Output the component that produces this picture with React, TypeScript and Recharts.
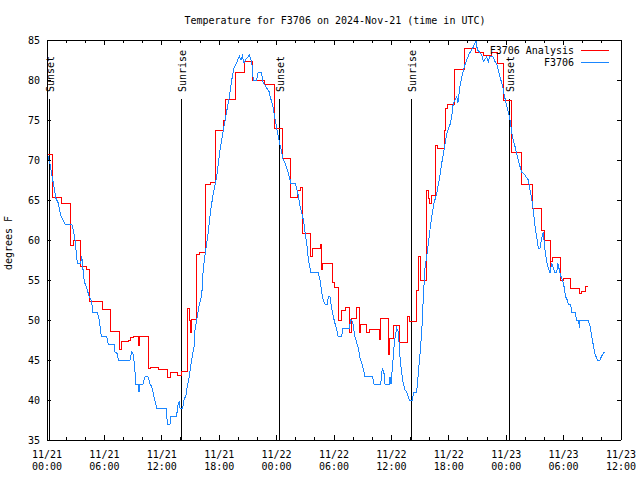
import React from 'react';
import { LineChart, Line, XAxis, YAxis, ReferenceLine } from 'recharts';

const FONT = '"DejaVu Sans Mono", "Liberation Mono", monospace';

// ---- axis ticks / labels ----
const xMajorTicks = [0, 6, 12, 18, 24, 30, 36, 42, 48, 54, 60];
const xMinorTicks = [0, 2, 4, 6, 8, 10, 12, 14, 16, 18, 20, 22, 24, 26, 28, 30, 32, 34, 36, 38, 40, 42, 44, 46, 48, 50, 52, 54, 56, 58, 60];
const xDateLabels = ['11/21', '11/21', '11/21', '11/21', '11/22', '11/22', '11/22', '11/22', '11/23', '11/23', '11/23'];
const xTimeLabels = ['00:00', '06:00', '12:00', '18:00', '00:00', '06:00', '12:00', '18:00', '00:00', '06:00', '12:00'];
const yTicks = [35, 40, 45, 50, 55, 60, 65, 70, 75, 80, 85];

// ---- sun events (hours since 11/21 00:00 UTC) ----
const sunHours = [0.24, 14.04, 24.28, 38.08, 48.32];
const sunLabels = ['Sunset', 'Sunrise', 'Sunset', 'Sunrise', 'Sunset'];
const sunLineTop = 77.6;

// ---- F3706 Analysis (hours, °F) ----
const analysisHours = [
  0, 0.55, 1.54, 2.46, 2.72, 3.45, 4.18, 4.49, 5.75, 6.66,
  7.56, 7.79, 8.5, 8.78, 8.99, 9.61, 9.72, 10.59, 10.77, 11.63,
  12.62, 12.86, 13.59, 14.08, 14.66, 14.87, 15.02, 15.12, 15.65, 15.99,
  16.59, 17.04, 17.63, 18.5, 18.68, 19.75, 20.64, 21.53, 22.71, 23.83,
  24.6, 25.5, 26.16, 26.55, 26.73, 27.56, 27.8, 28.54, 28.71, 28.85,
  29.86, 30.03, 30.45, 30.8, 31.15, 31.67, 31.85, 32.37, 32.64, 32.79,
  33.42, 33.76, 34.73, 34.84, 35.67, 35.85, 36.2, 36.82, 37.7, 37.94,
  38.64, 38.81, 39.09, 39.69, 39.85, 40.0, 40.2, 40.66, 40.87, 41.55,
  41.7, 41.91, 42.57, 43.62, 44.74, 45.6, 46.48, 47.07, 47.7, 48.57,
  49.62, 50.7, 51.64, 52.05, 52.58, 52.68, 52.89, 53.7, 53.94, 54.74,
  55.64, 55.92, 56.24, 56.58,
];
const analysisTemps = [
  70.7, 65.3, 64.6, 59.3, 60.0, 56.7, 56.3, 52.3, 51.3, 48.6,
  46.3, 47.3, 47.5, 47.8, 47.9, 46.8, 47.9, 44.0, 44.1, 43.8,
  42.8, 43.5, 43.1, 43.6, 51.5, 50.0, 48.5, 50.1, 58.2, 58.5,
  67.0, 67.2, 73.75, 74.9, 77.6, 80.9, 82.3, 79.9, 79.5, 74.0,
  70.2, 65.3, 66.25, 66.6, 60.8, 58.0, 58.9, 59.4, 56.3, 57.1,
  54.7, 54.1, 50.0, 51.25, 51.6, 48.4, 50.2, 51.6, 48.4, 49.4,
  48.5, 48.8, 47.6, 50.2, 45.7, 47.7, 49.3, 47.2, 50.5, 49.8,
  53.75, 57.9, 55.0, 66.25, 65.2, 64.6, 65.6, 71.8, 71.5, 73.75,
  76.4, 77.0, 81.3, 84.0, 83.4, 83.1, 83.4, 82.1, 77.4, 71.0,
  67.0, 63.9, 61.25, 60.0, 56.25, 57.3, 57.8, 55.0, 55.2, 54.0,
  53.3, 53.6, 54.2, 54.2,
];

// ---- F3706 observations (hours, °F) ----
const obsHours = [
  0, 0.31, 0.66, 0.94, 1.18, 1.43, 1.88, 2.58, 2.75, 2.93,
  3.17, 3.52, 3.63, 3.73, 3.9, 4.15, 4.42, 4.67, 4.78, 5.23,
  5.47, 5.61, 5.72, 6.24, 6.41, 7.0, 7.11, 7.35, 7.45, 8.68,
  8.85, 8.99, 9.13, 9.3, 9.56, 9.62, 9.67, 10.03, 10.24, 10.56,
  10.77, 10.94, 11.11, 11.29, 11.47, 12.44, 12.51, 12.62, 12.86, 12.93,
  13.56, 13.62, 13.83, 13.9, 14.18, 14.32, 14.53, 14.66, 14.87, 15.12,
  15.37, 15.47, 15.65, 15.92, 16.17, 16.34, 16.52, 16.69, 16.88, 17.11,
  17.38, 17.74, 18.08, 18.37, 18.71, 19.06, 19.31, 19.55, 19.83, 20.1,
  20.28, 20.43, 20.59, 20.8, 21.15, 21.4, 21.56, 21.9, 22.09, 22.42,
  22.55, 22.96, 23.2, 23.38, 23.59, 23.76, 24.01, 24.25, 24.53, 24.64,
  24.88, 25.12, 25.33, 25.5, 25.92, 26.1, 26.27, 26.45, 26.62, 26.86,
  26.97, 27.15, 27.31, 27.49, 27.6, 28.36, 28.54, 28.71, 28.88, 29.06,
  29.3, 29.4, 29.58, 29.76, 29.93, 30.28, 30.45, 30.8, 30.91, 31.6,
  31.74, 31.95, 32.19, 32.54, 32.72, 33.0, 33.24, 34.04, 34.18, 34.88,
  35.05, 35.23, 35.33, 35.78, 35.85, 35.96, 36.13, 36.3, 36.55, 36.72,
  36.9, 37.08, 37.24, 37.42, 37.6, 37.87, 38.23, 38.29, 38.64, 38.81,
  38.99, 39.17, 39.33, 39.51, 39.69, 39.86, 40.03, 40.21, 40.45, 40.73,
  41.0, 41.26, 41.5, 41.78, 42.12, 42.3, 42.47, 42.82, 42.96, 43.17,
  43.35, 43.62, 43.87, 44.14, 44.5, 44.74, 44.84, 44.98, 45.19, 45.44,
  45.61, 45.79, 45.96, 46.13, 46.3, 46.59, 46.83, 47.0, 47.17, 47.42,
  47.63, 47.77, 47.98, 48.22, 48.4, 48.57, 48.74, 48.92, 49.1, 49.27,
  49.44, 49.62, 49.96, 50.31, 50.49, 50.66, 50.83, 51.01, 51.19, 51.35,
  51.53, 51.71, 51.88, 52.05, 52.23, 52.4, 52.58, 52.76, 52.92, 53.1,
  53.28, 53.38, 53.55, 53.7, 53.9, 54.04, 54.22, 54.39, 54.49, 54.74,
  54.84, 55.19, 55.37, 55.58, 55.64, 55.72, 56.58, 56.76, 56.93, 57.1,
  57.28, 57.52, 57.8, 57.98, 58.25,
];
const obsTemps = [
  71.0, 69.5, 67.1, 65.2, 64.6, 63.1, 62.0, 62.0, 61.25, 60.0,
  57.1, 57.1, 58.0, 56.7, 54.8, 54.0, 52.9, 52.3, 51.0, 51.0,
  50.0, 48.5, 47.9, 47.9, 47.0, 47.0, 46.0, 45.8, 45.0, 45.0,
  46.0, 45.8, 44.6, 42.0, 42.0, 41.0, 42.0, 42.0, 42.9, 42.9,
  42.0, 41.7, 40.8, 39.9, 39.0, 39.0, 37.9, 37.0, 37.0, 37.9,
  37.9, 39.0, 39.9, 39.0, 39.0, 40.0, 40.6, 41.7, 42.9, 45.0,
  46.7, 48.75, 50.0, 52.0, 53.0, 56.5, 58.1, 59.5, 61.25, 63.75,
  65.8, 67.9, 71.25, 73.3, 75.6, 77.9, 80.0, 81.5, 82.2, 83.0,
  82.5, 83.0, 82.1, 82.6, 83.1, 82.3, 80.0, 80.0, 81.0, 81.0,
  79.8, 79.0, 78.6, 77.7, 76.9, 75.6, 74.0, 72.5, 71.0, 70.2,
  69.6, 68.75, 67.9, 67.1, 67.1, 66.5, 65.5, 64.2, 63.5, 62.1,
  61.0, 59.6, 57.7, 56.5, 55.9, 55.9, 55.0, 53.5, 52.5, 52.0,
  52.0, 52.9, 52.9, 51.5, 50.4, 48.75, 47.9, 47.9, 48.9, 48.9,
  50.0, 49.8, 47.9, 46.5, 45.2, 44.2, 42.9, 42.9, 42.0, 42.0,
  44.0, 43.3, 42.0, 42.0, 42.9, 42.0, 44.4, 47.1, 49.0, 48.5,
  45.4, 43.3, 42.1, 41.25, 41.0, 40.0, 40.0, 41.0, 41.0, 43.3,
  45.8, 48.5, 52.7, 56.5, 58.0, 59.5, 61.25, 62.9, 64.6, 65.8,
  67.5, 69.6, 71.25, 73.3, 74.4, 75.4, 77.1, 77.9, 77.2, 79.2,
  80.4, 81.7, 82.5, 83.3, 84.0, 84.6, 85.0, 83.8, 83.5, 83.1,
  82.3, 82.6, 82.9, 82.3, 83.0, 83.0, 82.3, 82.0, 81.25, 80.1,
  79.2, 78.3, 77.1, 76.0, 75.0, 73.5, 72.5, 71.7, 70.8, 70.0,
  69.2, 68.5, 68.1, 67.5, 66.25, 65.2, 63.75, 61.7, 60.4, 59.0,
  59.0, 60.2, 61.0, 58.75, 57.3, 56.5, 55.9, 57.1, 56.5, 55.9,
  55.9, 57.1, 56.3, 55.5, 55.0, 54.2, 52.9, 52.5, 52.0, 52.0,
  51.0, 51.0, 50.0, 50.0, 49.0, 50.0, 50.0, 49.2, 48.0, 46.9,
  45.8, 45.0, 45.0, 45.5, 46.0,
];

const zip = (hs: number[], ts: number[]) => {
  const n = Math.min(hs.length, ts.length);
  const out: { h: number; t: number }[] = [];
  for (let i = 0; i < n; i++) out.push({ h: hs[i], t: ts[i] });
  return out;
};
const analysisData = zip(analysisHours, analysisTemps);
const obsData = zip(obsHours, obsTemps);

const RED = '#ff0000';
const BLUE = '#1a86ff';

const textStyle = { fontFamily: FONT, fontSize: 10, fill: '#000' };

const BottomTick = (props: any) => {
  const { x, y, payload } = props;
  const idx = xMajorTicks.indexOf(payload.value);
  const major = idx >= 0;
  return (
    <g>
      <line x1={x} x2={x} y1={y} y2={y - (major ? 5 : 3)} stroke="#000" shapeRendering="crispEdges" />
      {major && (
        <text x={x} y={y + 18} textAnchor="middle" style={textStyle}>{xDateLabels[idx]}</text>
      )}
      {major && (
        <text x={x} y={y + 30} textAnchor="middle" style={textStyle}>{xTimeLabels[idx]}</text>
      )}
    </g>
  );
};

const TopTick = (props: any) => {
  const { x, y, payload } = props;
  const major = xMajorTicks.indexOf(payload.value) >= 0;
  return <line x1={x} x2={x} y1={y} y2={y + (major ? 5 : 3)} stroke="#000" shapeRendering="crispEdges" />;
};

const LeftTick = (props: any) => {
  const { x, y, payload } = props;
  return (
    <g>
      <line x1={x} x2={x + 4} y1={y} y2={y} stroke="#000" shapeRendering="crispEdges" />
      <text x={x - 7} y={y + 3.5} textAnchor="end" style={textStyle}>{payload.value}</text>
    </g>
  );
};

const RightTick = (props: any) => {
  const { x, y } = props;
  return <line x1={x} x2={x - 4} y1={y} y2={y} stroke="#000" shapeRendering="crispEdges" />;
};

const makeSunLabel = (text: string) => (p: any) => {
  const vb = p.viewBox || {};
  const lx = (vb.x ?? 0) + 1.5;
  const ly = 92;
  return (
    <text
      x={lx}
      y={ly}
      transform={`rotate(-90 ${lx} ${ly})`}
      textAnchor="start"
      dominantBaseline="central"
      style={textStyle}
    >
      {text}
    </text>
  );
};

const axisLineStyle = { stroke: '#000', shapeRendering: 'crispEdges' };

export default function App() {
  return (
    <div style={{ position: 'absolute', left: 0, top: 0, width: 640, height: 480, background: '#fff' }}>
      <LineChart width={640} height={480} margin={{ top: 10, right: 1, bottom: 10, left: 7 }}>
        <XAxis
          dataKey="h"
          type="number"
          domain={[0, 60]}
          ticks={xMinorTicks}
          interval={0}
          allowDataOverflow
          height={30}
          tickSize={0}
          tickMargin={0}
          tickLine={false}
          axisLine={axisLineStyle}
          tick={BottomTick}
        />
        <XAxis
          xAxisId="top"
          orientation="top"
          dataKey="h"
          type="number"
          domain={[0, 60]}
          ticks={xMinorTicks}
          interval={0}
          allowDataOverflow
          height={30}
          tickSize={0}
          tickMargin={0}
          tickLine={false}
          axisLine={axisLineStyle}
          tick={TopTick}
        />
        <YAxis
          type="number"
          domain={[35, 85]}
          ticks={yTicks}
          interval={0}
          allowDataOverflow
          width={40}
          tickSize={0}
          tickMargin={0}
          tickLine={false}
          axisLine={axisLineStyle}
          tick={LeftTick}
        />
        <YAxis
          yAxisId="right"
          orientation="right"
          type="number"
          domain={[35, 85]}
          ticks={yTicks}
          interval={0}
          allowDataOverflow
          width={18}
          tickSize={0}
          tickMargin={0}
          tickLine={false}
          axisLine={axisLineStyle}
          tick={RightTick}
        />
        {sunHours.map((h, i) => (
          <ReferenceLine
            key={`sun-${i}`}
            segment={[{ x: h, y: 35 }, { x: h, y: sunLineTop }]}
            stroke="#000"
            strokeWidth={1}
            shapeRendering="crispEdges"
            label={makeSunLabel(sunLabels[i])}
          />
        ))}
        <Line
          data={analysisData}
          dataKey="t"
          name="F3706 Analysis"
          type="stepAfter"
          stroke={RED}
          strokeWidth={1}
          dot={false}
          activeDot={false}
          isAnimationActive={false}
          style={{ shapeRendering: 'crispEdges' }}
        />
        <Line
          data={obsData}
          dataKey="t"
          name="F3706"
          type="linear"
          stroke={BLUE}
          strokeWidth={1}
          dot={false}
          activeDot={false}
          isAnimationActive={false}
          style={{ shapeRendering: 'crispEdges' }}
        />
      </LineChart>
      <svg
        width={640}
        height={480}
        style={{ position: 'absolute', left: 0, top: 0, pointerEvents: 'none' }}
      >
        <text x={335} y={24} textAnchor="middle" style={textStyle}>
          Temperature for F3706 on 2024-Nov-21 (time in UTC)
        </text>
        <text x={12} y={243} transform="rotate(-90 12 243)" textAnchor="middle" style={textStyle}>
          degrees F
        </text>
        <text x={574} y={54} textAnchor="end" style={textStyle}>F3706 Analysis</text>
        <line x1={581} x2={609} y1={50} y2={50} stroke={RED} strokeWidth={1} shapeRendering="crispEdges" />
        <text x={574} y={66} textAnchor="end" style={textStyle}>F3706</text>
        <line x1={581} x2={609} y1={62} y2={62} stroke={BLUE} strokeWidth={1} shapeRendering="crispEdges" />
      </svg>
    </div>
  );
}
